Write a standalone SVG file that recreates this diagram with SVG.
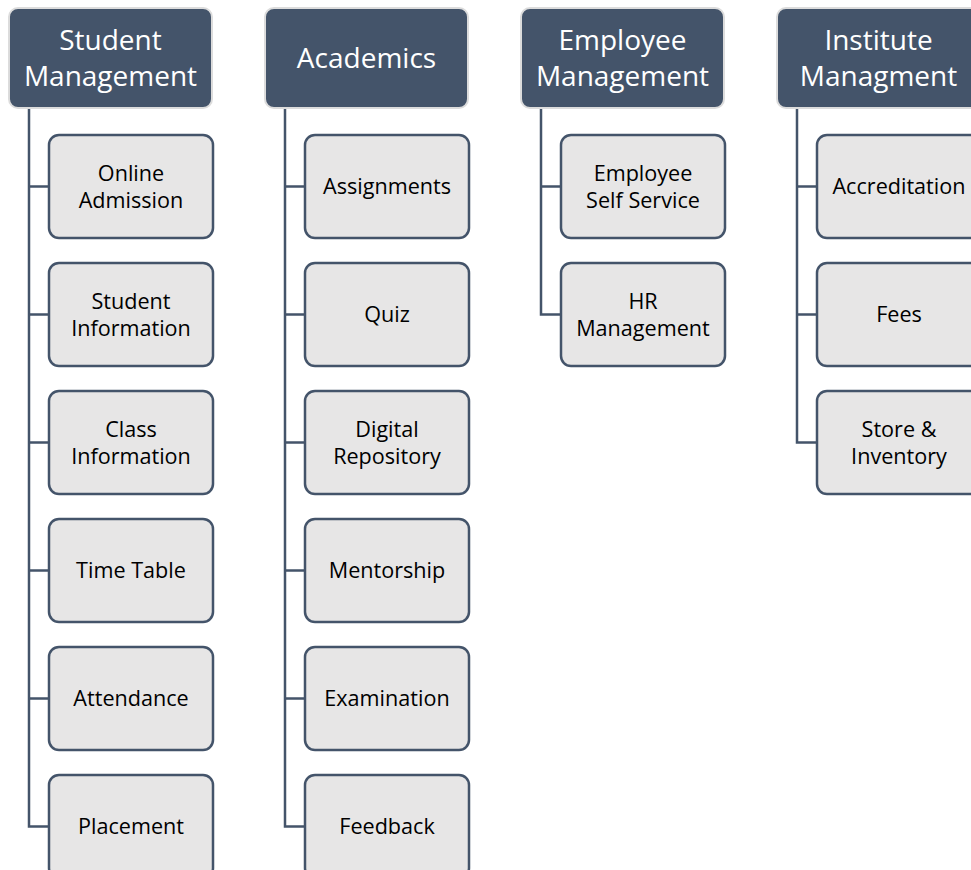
<svg xmlns="http://www.w3.org/2000/svg" width="971" height="870" viewBox="0 0 971 870">
<style>
.hd{fill:#44546A;stroke:#DCDCDC;stroke-width:2}
.bx{fill:#E7E6E6;stroke:#44546A;stroke-width:2.5}
.ht{font-family:"Open Sans",sans-serif;font-size:28px;fill:#FFFFFF;text-anchor:middle}
.bt{font-family:"Open Sans",sans-serif;font-size:21.6px;fill:#000000;text-anchor:middle}
.cn{fill:none;stroke:#44546A;stroke-width:2.5}
</style>
<rect width="971" height="870" fill="#FFFFFF"/>
<g id="connectors">
<path class="cn" d="M29,108 V826.5 H49 M29,186.5 H49 M29,314.5 H49 M29,442.5 H49 M29,570.5 H49 M29,698.5 H49"/>
<path class="cn" d="M285,108 V826.5 H305 M285,186.5 H305 M285,314.5 H305 M285,442.5 H305 M285,570.5 H305 M285,698.5 H305"/>
<path class="cn" d="M541,108 V314.5 H561 M541,186.5 H561"/>
<path class="cn" d="M797,108 V442.5 H817 M797,186.5 H817 M797,314.5 H817"/>
</g>
<g id="h-student"><rect class="hd" x="9" y="8" width="203" height="100" rx="9"/><text class="ht" x="110.5" y="50">Student</text><text class="ht" x="110.5" y="86">Management</text></g>
<g id="h-academics"><rect class="hd" x="265" y="8" width="203" height="100" rx="9"/><text class="ht" x="366.5" y="68">Academics</text></g>
<g id="h-employee"><rect class="hd" x="521" y="8" width="203" height="100" rx="9"/><text class="ht" x="622.5" y="50">Employee</text><text class="ht" x="622.5" y="86">Management</text></g>
<g id="h-institute"><rect class="hd" x="777" y="8" width="203" height="100" rx="9"/><text class="ht" x="878.5" y="50">Institute</text><text class="ht" x="878.5" y="86">Managment</text></g>

<g id="online-admission"><rect class="bx" x="49" y="135" width="164" height="103" rx="10"/><text class="bt" x="131" y="181">Online</text><text class="bt" x="131" y="208">Admission</text></g>
<g id="student-information"><rect class="bx" x="49" y="263" width="164" height="103" rx="10"/><text class="bt" x="131" y="309">Student</text><text class="bt" x="131" y="336">Information</text></g>
<g id="class-information"><rect class="bx" x="49" y="391" width="164" height="103" rx="10"/><text class="bt" x="131" y="437">Class</text><text class="bt" x="131" y="464">Information</text></g>
<g id="time-table"><rect class="bx" x="49" y="519" width="164" height="103" rx="10"/><text class="bt" x="131" y="578">Time Table</text></g>
<g id="attendance"><rect class="bx" x="49" y="647" width="164" height="103" rx="10"/><text class="bt" x="131" y="706">Attendance</text></g>
<g id="placement"><rect class="bx" x="49" y="775" width="164" height="103" rx="10"/><text class="bt" x="131" y="834">Placement</text></g>

<g id="assignments"><rect class="bx" x="305" y="135" width="164" height="103" rx="10"/><text class="bt" x="387" y="194">Assignments</text></g>
<g id="quiz"><rect class="bx" x="305" y="263" width="164" height="103" rx="10"/><text class="bt" x="387" y="322">Quiz</text></g>
<g id="digital-repository"><rect class="bx" x="305" y="391" width="164" height="103" rx="10"/><text class="bt" x="387" y="437">Digital</text><text class="bt" x="387" y="464">Repository</text></g>
<g id="mentorship"><rect class="bx" x="305" y="519" width="164" height="103" rx="10"/><text class="bt" x="387" y="578">Mentorship</text></g>
<g id="examination"><rect class="bx" x="305" y="647" width="164" height="103" rx="10"/><text class="bt" x="387" y="706">Examination</text></g>
<g id="feedback"><rect class="bx" x="305" y="775" width="164" height="103" rx="10"/><text class="bt" x="387" y="834">Feedback</text></g>

<g id="employee-self-service"><rect class="bx" x="561" y="135" width="164" height="103" rx="10"/><text class="bt" x="643" y="181">Employee</text><text class="bt" x="643" y="208">Self Service</text></g>
<g id="hr-management"><rect class="bx" x="561" y="263" width="164" height="103" rx="10"/><text class="bt" x="643" y="309">HR</text><text class="bt" x="643" y="336">Management</text></g>

<g id="accreditation"><rect class="bx" x="817" y="135" width="164" height="103" rx="10"/><text class="bt" x="899" y="194">Accreditation</text></g>
<g id="fees"><rect class="bx" x="817" y="263" width="164" height="103" rx="10"/><text class="bt" x="899" y="322">Fees</text></g>
<g id="store-inventory"><rect class="bx" x="817" y="391" width="164" height="103" rx="10"/><text class="bt" x="899" y="437">Store &amp;</text><text class="bt" x="899" y="464">Inventory</text></g>
</svg>
